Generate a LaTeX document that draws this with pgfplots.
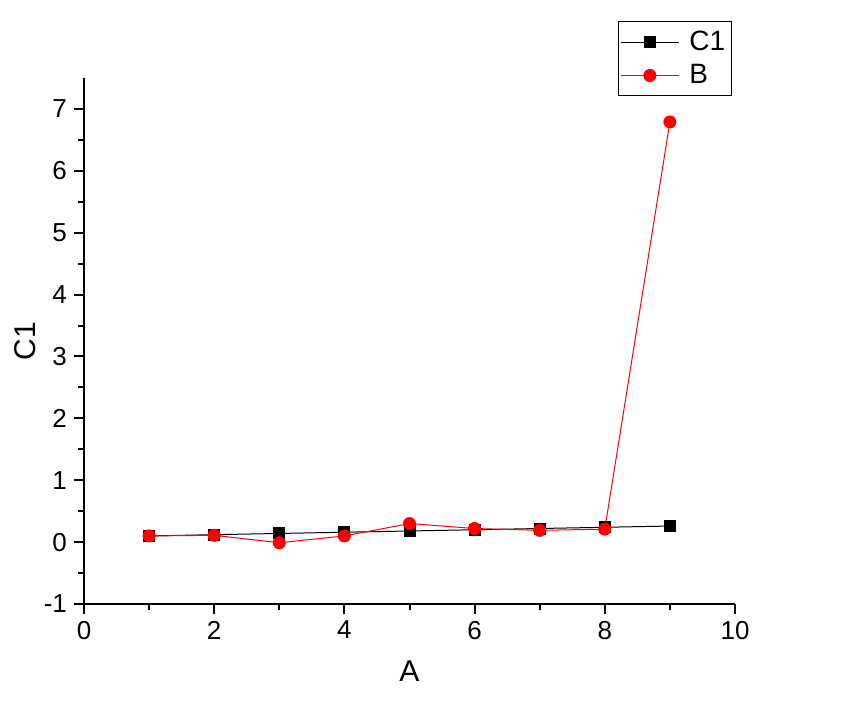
\documentclass[border=0pt]{standalone}
\usepackage{fontspec}
\setmainfont{Liberation Sans}
\usepackage{pgfplots}
\pgfplotsset{compat=1.18}

\begin{document}
\begin{tikzpicture}
  \begin{axis}[
    scale only axis,
    width=325.5pt, height=263pt,
    xmin=0, xmax=10, ymin=-1, ymax=7.5,
    axis lines*=left,
    axis line style={line width=1pt},
    tick align=outside,
    tick style={line width=1pt, black},
    major tick length=5pt,
    minor tick length=3pt,
    xtick={0,2,...,10}, minor x tick num=1,
    ytick={-1,0,...,7}, minor y tick num=1,
    /pgf/number format/assume math mode=true,
    ticklabel style={font=\fontsize{13}{15}\selectfont},
    xlabel={A}, ylabel={C1},
    label style={font=\fontsize{15}{17}\selectfont},
    xlabel style={yshift=-4pt},
    ylabel style={yshift=-3pt},
    legend cell align=left,
    legend style={at={(rel axis cs:0.995,1.108)}, anchor=north east,
      draw=black, line width=0.6pt, font=\fontsize{14}{16}\selectfont,
      row sep=1.5pt, inner xsep=1pt, inner ysep=2.5pt},
    legend image code/.code={%
      \draw[mark repeat=2, mark phase=2, #1] plot coordinates {(0pt,0pt) (14.5pt,0pt) (29pt,0pt)};
      \path (32pt,0pt);},
  ]
    % C1
    \addplot[black, line width=0.5pt, mark=square*, mark size=2.75pt,
      mark options={solid, fill=black}] coordinates {
      (1,0.10) (2,0.12) (3,0.14) (4,0.16) (5,0.18)
      (6,0.20) (7,0.22) (8,0.24) (9,0.26)
    };
    \addlegendentry{C1}
    % B
    \addplot[red, line width=0.5pt, mark=*, mark size=3pt,
      mark options={solid, fill=red, draw=red}] coordinates {
      (1,0.10) (2,0.11) (3,-0.01) (4,0.10) (5,0.30)
      (6,0.22) (7,0.19) (8,0.21) (9,6.79)
    };
    \addlegendentry{B}
  \end{axis}
  \pgfresetboundingbox
  \useasboundingbox (-42pt,-52pt) rectangle (378.5pt,302pt);
\end{tikzpicture}
\end{document}
